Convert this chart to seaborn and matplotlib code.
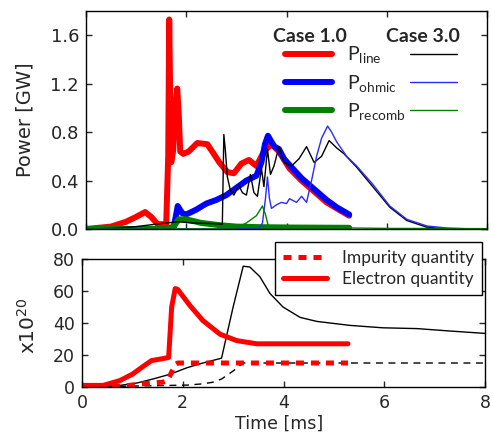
import matplotlib
matplotlib.use("Agg")
import matplotlib.pyplot as plt
from matplotlib.lines import Line2D
import seaborn as sns
import pandas as pd

# ---------------- Power components [GW] ----------------
# Case 1.0
t_line1 = [0.0, 0.5, 0.8, 1.0, 1.18, 1.3, 1.43, 1.6, 1.64, 1.66, 1.68, 1.70,
           1.74, 1.78, 1.82, 1.85, 1.88, 1.94, 2.05, 2.22, 2.42, 2.55, 2.66,
           2.82, 2.95, 3.1, 3.25, 3.4, 3.55, 3.7, 3.85, 4.06, 4.3, 4.55, 4.8,
           5.0, 5.25]
p_line1 = [0.0, 0.02, 0.06, 0.10, 0.14, 0.10, 0.04, 0.04, 0.6, 1.73, 1.1, 0.55,
           0.65, 1.0, 1.16, 0.95, 0.64, 0.62, 0.64, 0.71, 0.70, 0.62, 0.55,
           0.47, 0.46, 0.54, 0.57, 0.52, 0.64, 0.70, 0.64, 0.50, 0.40, 0.31, 0.22,
           0.17, 0.11]

t_ohm1 = [0.0, 1.74, 1.78, 1.83, 1.92, 2.0, 2.2, 2.4, 2.6, 2.8, 3.0, 3.2, 3.4,
          3.5, 3.57, 3.63, 3.7, 3.76, 3.85, 3.95, 4.1, 4.3, 4.55, 4.8, 5.0, 5.25]
p_ohm1 = [0.0, 0.0, 0.08, 0.19, 0.13, 0.12, 0.16, 0.21, 0.24, 0.28, 0.34, 0.40,
          0.44, 0.55, 0.70, 0.77, 0.72, 0.68, 0.66, 0.58, 0.51, 0.42, 0.33, 0.24,
          0.18, 0.12]

t_rec1 = [0.0, 1.6, 1.75, 1.85, 2.0, 2.3, 2.7, 3.0, 3.5, 4.2, 5.25]
p_rec1 = [0.0, 0.0, 0.02, 0.08, 0.08, 0.05, 0.03, 0.02, 0.015, 0.012, 0.01]

# Case 3.0
t_line3 = [0.0, 0.5, 1.0, 1.5, 1.85, 2.1, 2.5, 2.72, 2.75, 2.78, 2.82, 2.88,
           2.95, 3.05, 3.12, 3.2, 3.28, 3.35, 3.42, 3.5, 3.55, 3.62, 3.68, 3.75,
           3.85, 3.95, 4.1, 4.25, 4.4, 4.55, 4.7, 4.85, 5.0, 5.15, 5.4, 5.72,
           6.06, 6.4, 6.8, 7.2, 8.0]
p_line3 = [0.0, 0.005, 0.02, 0.045, 0.06, 0.05, 0.045, 0.04, 0.78, 0.65, 0.43,
           0.32, 0.28, 0.36, 0.30, 0.28, 0.45, 0.30, 0.27, 0.50, 0.35, 0.66, 0.45,
           0.52, 0.68, 0.55, 0.52, 0.58, 0.68, 0.55, 0.60, 0.73, 0.67, 0.62, 0.51,
           0.35, 0.18, 0.07, 0.015, 0.0, 0.0]

t_ohm3 = [0.0, 3.45, 3.52, 3.58, 3.62, 3.66, 3.70, 3.8, 3.9, 4.0, 4.06, 4.2,
          4.3, 4.4, 4.5, 4.6, 4.7, 4.82, 4.9, 5.0, 5.2, 5.4, 5.72, 6.06, 6.4,
          6.8, 7.2, 7.6, 8.0]
p_ohm3 = [0.0, 0.0, 0.05, 0.25, 0.43, 0.25, 0.17, 0.20, 0.22, 0.21, 0.25, 0.22,
          0.27, 0.22, 0.40, 0.60, 0.75, 0.85, 0.80, 0.72, 0.60, 0.52, 0.37, 0.19,
          0.08, 0.025, 0.008, 0.002, 0.0]

t_rec3 = [0.0, 2.9, 3.0, 3.2, 3.4, 3.52, 3.58, 3.64, 4.0, 5.0, 6.0, 8.0]
p_rec3 = [0.0, 0.0, 0.01, 0.05, 0.11, 0.19, 0.12, 0.02, 0.015, 0.01, 0.005, 0.003]

# ---------------- Particle quantities [x10^20] ----------------
t_el1 = [0.0, 0.42, 0.75, 1.0, 1.22, 1.38, 1.65, 1.72, 1.78, 1.85, 1.9, 2.14,
         2.4, 2.74, 3.07, 3.47, 4.0, 5.28]
n_el1 = [1.0, 1.0, 4.0, 8.0, 13.0, 16.5, 18.0, 18.5, 50.0, 61.5, 61.0, 51.0,
         41.5, 33.0, 29.0, 27.0, 27.0, 27.0]

t_imp1 = [0.0, 0.8, 1.2, 1.6, 1.7, 1.85, 1.9, 5.28]
n_imp1 = [0.0, 0.5, 2.0, 3.0, 4.0, 14.0, 15.0, 15.0]

t_el3 = [0.0, 0.75, 1.09, 1.41, 1.75, 2.08, 2.4, 2.77, 3.0, 3.2, 3.33, 3.53,
         3.73, 3.99, 4.33, 4.66, 5.32, 5.97, 6.65, 7.3, 8.0]
n_el3 = [0.0, 1.0, 2.5, 5.0, 8.0, 12.0, 15.0, 18.0, 50.0, 75.5, 75.0, 69.0,
         58.5, 50.0, 43.5, 41.0, 38.5, 37.0, 36.5, 35.0, 33.5]

t_imp3 = [0.0, 1.75, 2.1, 2.4, 2.6, 2.77, 3.0, 3.2, 8.0]
n_imp3 = [0.0, 1.0, 1.2, 2.0, 3.0, 5.0, 10.0, 15.0, 15.0]

power_ticks = [0.0, 0.4, 0.8, 1.2, 1.6]
count_ticks = [0, 20, 40, 60, 80]
time_ticks = [0, 2, 4, 6, 8]
power_labels = [r"$\mathregular{P_{line}}$", r"$\mathregular{P_{ohmic}}$",
                r"$\mathregular{P_{recomb}}$"]
case_titles = ["Case 1.0", "Case 3.0"]
quantity_labels = ["Impurity quantity", "Electron quantity"]

sns.set_style("white", {
    "xtick.direction": "in", "ytick.direction": "in",
    "xtick.top": True, "ytick.right": True,
    "xtick.bottom": True, "ytick.left": True,
    "axes.edgecolor": "black",
})
plt.rcParams["font.family"] = ["DejaVu Sans"]

RED, BLUE, GREEN, BLACK = "#ff0000", "#0000ff", "#008000", "#000000"
THIN_BLUE = "#2a2aff"
THICK, THIN = 4.3, 1.0

fig = plt.figure(figsize=(4.92, 4.33), dpi=100)
W, H = 492, 433
ax1 = fig.add_axes([86 / W, 1 - 229 / H, 401 / W, 218 / H])
ax2 = fig.add_axes([82 / W, 1 - 387 / H, 403 / W, 128 / H])


def draw(ax, t, v, color, lw, **kw):
    df = pd.DataFrame({"t": t, "v": v})
    sns.lineplot(data=df, x="t", y="v", ax=ax, color=color, linewidth=lw,
                 estimator=None, sort=False, **kw)


# upper panel: thick = case 1.0, thin = case 3.0
draw(ax1, t_line1, p_line1, RED, THICK)
draw(ax1, t_ohm1, p_ohm1, BLUE, THICK)
draw(ax1, t_rec1, p_rec1, GREEN, THICK)
draw(ax1, t_line3, p_line3, BLACK, THIN)
draw(ax1, t_ohm3, p_ohm3, THIN_BLUE, THIN)
draw(ax1, t_rec3, p_rec3, GREEN, THIN)

ax1.set_xlim(0, 8)
ax1.set_ylim(0, 1.8)
ax1.set_xticks(time_ticks)
ax1.set_xticklabels([])
ax1.set_yticks(power_ticks)
ax1.set_yticklabels([f"{v:.1f}" for v in power_ticks])
ax1.set_xlabel("")
ax1.set_ylabel("Power [GW]", fontsize=14)
ax1.yaxis.set_label_coords(-0.128, 0.5)
ax1.tick_params(labelsize=13, length=4, width=1, pad=5)

# two-column legend: thick lines for case 1.0, thin lines for case 3.0
thick_h = [Line2D([], [], color=c, lw=THICK) for c in (RED, BLUE, GREEN)]
thin_h = [Line2D([], [], color=c, lw=THIN) for c in (BLACK, THIN_BLUE, GREEN)]
leg_kw = dict(loc="upper left", frameon=False, borderpad=0, borderaxespad=0,
              handlelength=2.4, labelspacing=0.38,
              prop={"family": "Lato", "size": 14})
leg_a = ax1.legend(thick_h, power_labels, bbox_to_anchor=(0.496, 0.847),
                   handletextpad=0.8, **leg_kw)
ax1.add_artist(leg_a)
leg_b = ax1.legend(thin_h, power_labels, bbox_to_anchor=(0.808, 0.847),
                   handletextpad=0.8, **leg_kw)
for txt in leg_b.get_texts():
    txt.set_alpha(0)
ax1.text(0.559, 0.881, case_titles[0], transform=ax1.transAxes, ha="center",
         va="center", family="Lato", weight="bold", fontsize=14)
ax1.text(0.840, 0.881, case_titles[1], transform=ax1.transAxes, ha="center",
         va="center", family="Lato", weight="bold", fontsize=14)
for s in ax1.spines.values():
    s.set_linewidth(1.0)

# lower panel: red = case 1.0, black = case 3.0
draw(ax2, t_el3, n_el3, BLACK, THIN)
draw(ax2, t_imp3, n_imp3, BLACK, THIN, dashes=(5, 4))
draw(ax2, t_el1, n_el1, RED, 3.6)
draw(ax2, t_imp1, n_imp1, RED, 3.6, dashes=(1.6, 1.4))

ax2.set_xlim(0, 8)
ax2.set_ylim(0, 80)
ax2.set_xticks(time_ticks)
ax2.set_yticks(count_ticks)
ax2.set_xlabel("Time [ms]", fontsize=12.5)
ax2.set_ylabel(r"x10$^{20}$", fontsize=14.5)
ax2.xaxis.set_label_coords(0.49, -0.215)
ax2.yaxis.set_label_coords(-0.108, 0.48)
ax2.tick_params(labelsize=12.5, length=4, width=1, pad=5)
for s in ax2.spines.values():
    s.set_linewidth(1.0)

q_h = [Line2D([], [], color=RED, lw=3.6, dashes=(1.6, 1.4)),
       Line2D([], [], color=RED, lw=3.6)]
leg_q = ax2.legend(q_h, quantity_labels, loc="upper right",
                   bbox_to_anchor=(0.993, 1.133), borderaxespad=0,
                   fancybox=False, framealpha=1, edgecolor="black",
                   handlelength=2.5, handletextpad=0.9, labelspacing=0.3,
                   borderpad=0.45, prop={"family": "Lato", "size": 12.5})
leg_q.get_frame().set_linewidth(1.0)

fig.savefig("out.png", dpi=100)
